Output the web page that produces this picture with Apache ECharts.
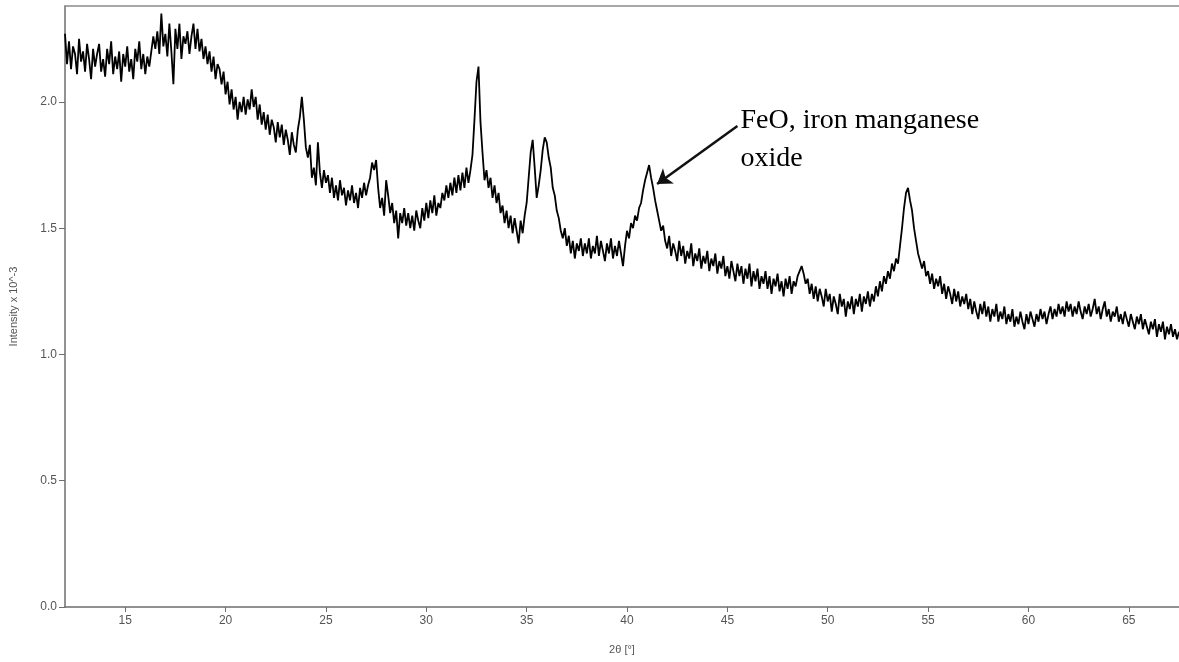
<!DOCTYPE html>
<html>
<head>
<meta charset="utf-8">
<title>XRD pattern</title>
<script src="https://cdn.jsdelivr.net/npm/echarts@6/dist/echarts.min.js"></script>
<style>
  html, body { margin: 0; padding: 0; background: #fff; }
  #chart { width: 1179px; height: 662px; }
</style>
</head>
<body>
<div id="chart"></div>
<script>
// scan grid: 2θ from 12.0° in 0.1° steps
const angleStart = 12.0;
const angleStep = 0.1;

// intensity x 10^-3 in 5° blocks
const int12 = [2.27, 2.15, 2.24, 2.13, 2.22, 2.19, 2.11, 2.25, 2.16, 2.20,
  2.12, 2.23, 2.17, 2.09, 2.21, 2.14, 2.19, 2.23, 2.12, 2.17,
  2.10, 2.21, 2.15, 2.24, 2.11, 2.18, 2.13, 2.20, 2.08, 2.19,
  2.14, 2.22, 2.12, 2.17, 2.09, 2.21, 2.16, 2.24, 2.13, 2.19,
  2.11, 2.18, 2.14, 2.20, 2.26, 2.21, 2.28, 2.19, 2.35, 2.22];
const int17 = [2.27, 2.18, 2.31, 2.20, 2.07, 2.29, 2.21, 2.31, 2.17, 2.26,
  2.23, 2.28, 2.19, 2.26, 2.31, 2.21, 2.29, 2.20, 2.25, 2.17,
  2.22, 2.15, 2.20, 2.12, 2.18, 2.09, 2.15, 2.13, 2.07, 2.12,
  2.03, 2.08, 1.99, 2.05, 1.97, 2.02, 1.93, 2.00, 1.96, 2.02,
  1.95, 2.01, 1.97, 2.05, 1.98, 2.02, 1.93, 1.99, 1.91, 1.96];
const int22 = [1.89, 1.95, 1.87, 1.93, 1.90, 1.84, 1.92, 1.86, 1.91, 1.83,
  1.89, 1.85, 1.79, 1.88, 1.83, 1.80, 1.89, 1.94, 2.02, 1.93,
  1.82, 1.78, 1.83, 1.70, 1.74, 1.67, 1.84, 1.72, 1.66, 1.73,
  1.68, 1.71, 1.64, 1.70, 1.62, 1.67, 1.61, 1.69, 1.63, 1.66,
  1.59, 1.65, 1.61, 1.67, 1.60, 1.64, 1.58, 1.66, 1.62, 1.68];
const int27 = [1.63, 1.67, 1.70, 1.76, 1.73, 1.77, 1.66, 1.58, 1.62, 1.55,
  1.69, 1.63, 1.56, 1.60, 1.52, 1.57, 1.46, 1.56, 1.52, 1.58,
  1.51, 1.56, 1.50, 1.55, 1.49, 1.57, 1.53, 1.50, 1.58, 1.53,
  1.60, 1.54, 1.61, 1.56, 1.63, 1.55, 1.60, 1.58, 1.64, 1.61,
  1.67, 1.62, 1.68, 1.63, 1.70, 1.64, 1.71, 1.65, 1.72, 1.66];
const int32 = [1.74, 1.68, 1.73, 1.79, 1.93, 2.08, 2.14, 1.92, 1.80, 1.69,
  1.73, 1.66, 1.70, 1.62, 1.67, 1.60, 1.64, 1.56, 1.59, 1.52,
  1.57, 1.50, 1.55, 1.48, 1.54, 1.49, 1.44, 1.53, 1.48, 1.55,
  1.60, 1.70, 1.80, 1.85, 1.74, 1.62, 1.67, 1.73, 1.81, 1.86,
  1.84, 1.78, 1.74, 1.66, 1.63, 1.57, 1.54, 1.49, 1.46, 1.50];
const int37 = [1.43, 1.47, 1.40, 1.45, 1.38, 1.44, 1.41, 1.46, 1.39, 1.44,
  1.40, 1.46, 1.38, 1.43, 1.40, 1.47, 1.39, 1.45, 1.41, 1.37,
  1.44, 1.40, 1.46, 1.38, 1.43, 1.39, 1.45, 1.40, 1.35, 1.43,
  1.49, 1.46, 1.52, 1.50, 1.55, 1.53, 1.58, 1.60, 1.65, 1.69,
  1.72, 1.75, 1.70, 1.66, 1.61, 1.57, 1.53, 1.49, 1.51, 1.45];
const int42 = [1.42, 1.47, 1.39, 1.44, 1.41, 1.37, 1.45, 1.39, 1.43, 1.36,
  1.41, 1.38, 1.44, 1.35, 1.40, 1.37, 1.42, 1.34, 1.39, 1.36,
  1.41, 1.33, 1.38, 1.35, 1.40, 1.32, 1.37, 1.34, 1.39, 1.31,
  1.35, 1.30, 1.37, 1.33, 1.29, 1.36, 1.31, 1.35, 1.28, 1.34,
  1.30, 1.36, 1.27, 1.33, 1.29, 1.34, 1.26, 1.31, 1.28, 1.33];
const int47 = [1.26, 1.31, 1.24, 1.30, 1.27, 1.32, 1.25, 1.29, 1.23, 1.30,
  1.26, 1.31, 1.24, 1.29, 1.27, 1.31, 1.33, 1.35, 1.32, 1.28,
  1.30, 1.24, 1.28, 1.22, 1.27, 1.21, 1.26, 1.23, 1.19, 1.26,
  1.21, 1.24, 1.17, 1.23, 1.20, 1.16, 1.24, 1.19, 1.22, 1.15,
  1.21, 1.18, 1.23, 1.16, 1.22, 1.19, 1.24, 1.17, 1.23, 1.20];
const int52 = [1.25, 1.19, 1.24, 1.21, 1.27, 1.23, 1.29, 1.25, 1.31, 1.28,
  1.33, 1.30, 1.36, 1.33, 1.38, 1.36, 1.43, 1.50, 1.58, 1.64,
  1.66, 1.61, 1.57, 1.50, 1.45, 1.40, 1.37, 1.34, 1.37, 1.31,
  1.33, 1.28, 1.32, 1.26, 1.30, 1.27, 1.31, 1.24, 1.28, 1.22,
  1.27, 1.24, 1.20, 1.26, 1.21, 1.25, 1.19, 1.23, 1.20, 1.24];
const int57 = [1.18, 1.22, 1.16, 1.21, 1.17, 1.14, 1.20, 1.16, 1.21, 1.15,
  1.19, 1.13, 1.18, 1.15, 1.20, 1.13, 1.17, 1.14, 1.19, 1.12,
  1.16, 1.13, 1.18, 1.11, 1.15, 1.12, 1.17, 1.13, 1.10, 1.16,
  1.12, 1.17, 1.14, 1.11, 1.16, 1.13, 1.18, 1.14, 1.17, 1.12,
  1.16, 1.19, 1.14, 1.18, 1.15, 1.20, 1.16, 1.19, 1.15, 1.21];
const int62 = [1.17, 1.20, 1.15, 1.19, 1.16, 1.21, 1.17, 1.14, 1.19, 1.16,
  1.20, 1.15, 1.18, 1.22, 1.16, 1.19, 1.14, 1.18, 1.21, 1.15,
  1.18, 1.13, 1.17, 1.15, 1.19, 1.13, 1.16, 1.12, 1.17, 1.14,
  1.11, 1.16, 1.13, 1.10, 1.15, 1.12, 1.16, 1.10, 1.14, 1.11,
  1.08, 1.13, 1.10, 1.14, 1.07, 1.12, 1.09, 1.13, 1.06, 1.11,
  1.08, 1.12, 1.07, 1.10, 1.06, 1.09];

const xTicks = [15, 20, 25, 30, 35, 40, 45, 50, 55, 60, 65];
const yTicks = [0.0, 0.5, 1.0, 1.5, 2.0];

// annotation: text and arrow ends in data units (2θ, intensity)
const noteLines = ['FeO, iron manganese', 'oxide'];
const noteAnchor = [45.65, 2.0];
const arrowFrom = [45.5, 1.905];
const arrowTo = [41.5, 1.675];

const intensity = [].concat(int12, int17, int22, int27, int32, int37, int42, int47, int52, int57, int62);
const points = intensity.map((v, i) => [+(angleStart + i * angleStep).toFixed(1), v]);

const chart = echarts.init(document.getElementById('chart'), null, { renderer: 'canvas' });

const axisGray = '#6e6e6e';
const labelGray = '#555';
const sans = 'Liberation Sans, Arial';

const option = {
  animation: false,
  backgroundColor: '#fff',
  grid: { left: 64, right: 0, top: 6, bottom: 55 },
  xAxis: [{
    type: 'value',
    min: 12,
    max: 67.5,
    name: '2θ [°]',
    nameLocation: 'middle',
    nameGap: 37,
    nameTextStyle: { color: labelGray, fontSize: 11, fontFamily: sans },
    axisLine: { show: true, lineStyle: { color: axisGray, width: 1.5 } },
    axisTick: { show: true, length: 5, lineStyle: { color: axisGray }, customValues: xTicks },
    axisLabel: { color: labelGray, fontSize: 12, margin: 8, fontFamily: sans, customValues: xTicks },
    splitLine: { show: false }
  }, {
    // top frame line only
    type: 'value',
    position: 'top',
    min: 12,
    max: 67.5,
    axisLine: { show: true, lineStyle: { color: '#8a8a8a', width: 1.5 } },
    axisTick: { show: false },
    axisLabel: { show: false },
    splitLine: { show: false }
  }],
  yAxis: {
    type: 'value',
    min: 0,
    max: 2.38,
    name: 'Intensity x 10^-3',
    nameLocation: 'middle',
    nameGap: 46,
    nameTextStyle: { color: labelGray, fontSize: 11, fontFamily: sans },
    axisLine: { show: true, lineStyle: { color: axisGray, width: 1.5 } },
    axisTick: { show: true, length: 6, lineStyle: { color: axisGray }, customValues: yTicks },
    axisLabel: {
      color: labelGray, fontSize: 12, margin: 8, fontFamily: sans,
      customValues: yTicks,
      formatter: v => v.toFixed(1)
    },
    splitLine: { show: false }
  },
  series: [{
    type: 'line',
    data: points,
    symbol: 'none',
    lineStyle: { color: '#000', width: 1.8 },
    markLine: {
      silent: true,
      symbol: ['none', 'arrow'],
      symbolSize: 14,
      label: { show: false },
      lineStyle: { color: '#111', width: 2.5, type: 'solid' },
      data: [[{ coord: arrowFrom }, { coord: arrowTo }]]
    }
  }]
};

chart.setOption(option);

// label text placed at its data anchor
const anchorPx = chart.convertToPixel({ seriesIndex: 0 }, noteAnchor);
chart.setOption({
  graphic: [{
    type: 'text',
    left: anchorPx[0],
    top: anchorPx[1],
    style: {
      text: noteLines.join('\n'),
      font: '28px "Liberation Serif", "Times New Roman", serif',
      lineHeight: 38,
      fill: '#000'
    }
  }]
});
</script>
</body>
</html>
